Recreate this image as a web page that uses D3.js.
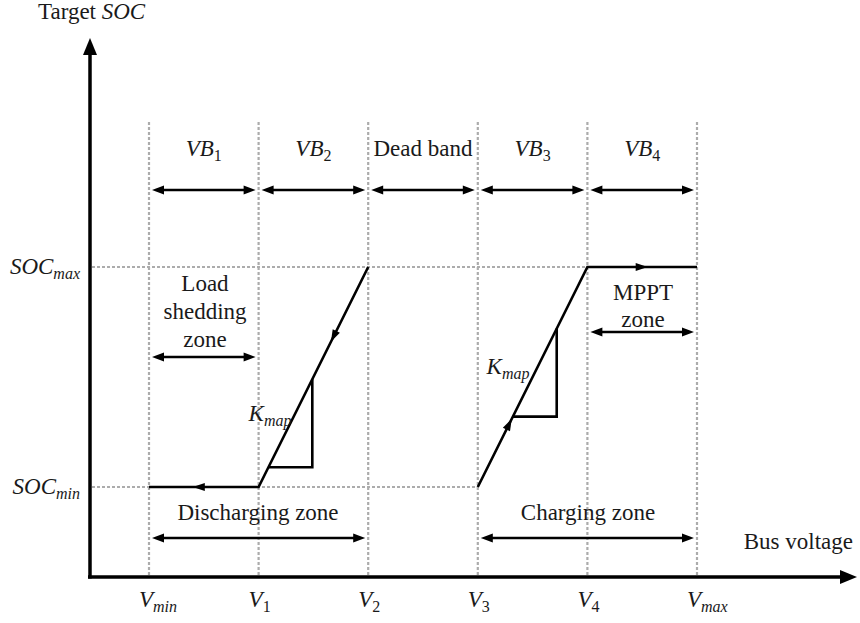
<!DOCTYPE html>
<html>
<head>
<meta charset="utf-8">
<script src="https://cdn.jsdelivr.net/npm/d3@7"></script>
<style>
  html, body { margin: 0; padding: 0; background: #fff; }
  svg { display: block; }
</style>
</head>
<body>
<svg id="chart" width="860" height="623"></svg>
<script>
// ---- data ----
const voltageTicks = ["min", "1", "2", "3", "4", "max"];          // subscripts of V on the bus-voltage axis
const socLevels = [{ key: "min", value: 0 }, { key: "max", value: 1 }];
// operating curves: v = voltage-tick index, soc = target SOC level
const dischargeCurve = [{ v: 0, soc: 0 }, { v: 1, soc: 0 }, { v: 2, soc: 1 }];
const chargeCurve = [{ v: 3, soc: 0 }, { v: 4, soc: 1 }, { v: 5, soc: 1 }];
// voltage bands across the top
const bandNames = [["VB", "1"], ["VB", "2"], ["Dead band", null], ["VB", "3"], ["VB", "4"]];
const bandEdges = [0, 1, 2, 3, 4, 5];
// direction arrows on the curves: position (v) and direction
const dischargeArrows = [{ v: 0.40, dir: -1 }, { v: 1.66, dir: -1 }];
const chargeArrows = [{ v: 3.31, dir: 1 }, { v: 4.55, dir: 1 }];
// slope triangles (v from, v to) for K_map
const slopeTriangles = [{ curve: "discharge", v0: 1.09, v1: 1.49 }, { curve: "charge", v0: 3.32, v1: 3.72 }];

// ---- layout ----
const svg = d3.select("#chart");
const FONT = '"Liberation Serif", "Times New Roman", serif';
const FS = 23, SUB = 16;
const x = d3.scaleLinear().domain([0, 5]).range([149, 697]);
const y = d3.scaleLinear().domain([0, 1]).range([487, 267]);
const axisX0 = 90, axisY0 = 577;
const dashColor = "#acacac";

function curveSoc(which, v) {
  return which === "discharge" ? v - 1 : v - 3;
}

function head(g, tipX, tipY, angle, len, w) {
  const c = Math.cos(angle), s = Math.sin(angle);
  const bx = tipX - c * len, by = tipY - s * len;
  const px = -s * w / 2, py = c * w / 2;
  g.append("path")
    .attr("d", `M${tipX},${tipY}L${bx + px},${by + py}L${bx - px},${by - py}Z`)
    .attr("fill", "#000");
}

function arrow(g, x1, y1, x2, y2, opts) {
  const o = Object.assign({ start: false, end: true, len: 12, w: 10, sw: 3 }, opts);
  const a = Math.atan2(y2 - y1, x2 - x1);
  const c = Math.cos(a), s = Math.sin(a);
  const sx = o.start ? x1 + c * o.len * 0.7 : x1, sy = o.start ? y1 + s * o.len * 0.7 : y1;
  const ex = o.end ? x2 - c * o.len * 0.7 : x2, ey = o.end ? y2 - s * o.len * 0.7 : y2;
  g.append("line").attr("x1", sx).attr("y1", sy).attr("x2", ex).attr("y2", ey)
    .attr("stroke", "#000").attr("stroke-width", o.sw);
  if (o.end) head(g, x2, y2, a, o.len, o.w);
  if (o.start) head(g, x1, y1, a + Math.PI, o.len, o.w);
}

// text made of runs: [text, italic, subscript]
function richText(g, xPos, yPos, runs, anchor) {
  const t = g.append("text").attr("x", xPos).attr("y", yPos)
    .style("font-family", FONT).style("font-size", FS + "px")
    .attr("text-anchor", anchor || "middle").attr("fill", "#1a1a1a");
  let shifted = 0;
  runs.forEach(([txt, it, sub]) => {
    const ts = t.append("tspan").text(txt).style("font-style", it ? "italic" : "normal");
    if (sub) { ts.style("font-size", SUB + "px").attr("dy", 5 - shifted); shifted = 5; }
    else if (shifted) { ts.attr("dy", -shifted); shifted = 0; }
  });
  return t;
}

const gGrid = svg.append("g");
const gMarks = svg.append("g");
const gText = svg.append("g");

// vertical dashed guides at each voltage tick
gGrid.selectAll("line.v").data(voltageTicks).join("line")
  .attr("x1", (d, i) => x(i)).attr("x2", (d, i) => x(i))
  .attr("y1", 122).attr("y2", axisY0)
  .attr("stroke", dashColor).attr("stroke-width", 2.2).attr("stroke-dasharray", "3,2");

// horizontal dashed guides for SOC levels
gGrid.append("line").attr("x1", axisX0 + 2).attr("x2", x(chargeCurve[1].v))
  .attr("y1", y(1)).attr("y2", y(1))
  .attr("stroke", dashColor).attr("stroke-width", 2.2).attr("stroke-dasharray", "3,2");
gGrid.append("line").attr("x1", axisX0 + 2).attr("x2", x(chargeCurve[0].v))
  .attr("y1", y(0)).attr("y2", y(0))
  .attr("stroke", dashColor).attr("stroke-width", 2.2).attr("stroke-dasharray", "3,2");

// axes
arrow(gMarks, axisX0, axisY0 + 1.5, axisX0, 38, { len: 17, w: 14, sw: 3.5 });
arrow(gMarks, axisX0 - 2, axisY0, 857, axisY0, { len: 17, w: 14, sw: 3.5 });

// operating curves
const line = d3.line().x(d => x(d.v)).y(d => y(d.soc));
[dischargeCurve, chargeCurve].forEach(c => {
  gMarks.append("path").datum(c).attr("d", line)
    .attr("fill", "none").attr("stroke", "#000").attr("stroke-width", 2.6)
    .attr("stroke-linejoin", "miter");
});

// direction arrows along the curves
function curveArrow(which, a) {
  const soc = Math.max(0, Math.min(1, curveSoc(which, a.v)));
  const onFlat = (which === "discharge" && a.v < 1) || (which === "charge" && a.v > 4);
  const px = x(a.v), py = y(onFlat ? (which === "discharge" ? 0 : 1) : soc);
  const ang = onFlat ? (a.dir > 0 ? 0 : Math.PI)
    : Math.atan2(y(1) - y(0), x(1) - x(0)) + (a.dir > 0 ? 0 : Math.PI);
  head(gMarks, px, py, ang, 12, 8);
}
dischargeArrows.forEach(a => curveArrow("discharge", a));
chargeArrows.forEach(a => curveArrow("charge", a));

// K_map slope triangles
slopeTriangles.forEach(t => {
  const yb = y(curveSoc(t.curve, t.v0)), yt = y(curveSoc(t.curve, t.v1));
  gMarks.append("path")
    .attr("d", `M${x(t.v0)},${yb}L${x(t.v1)},${yb}L${x(t.v1)},${yt}`)
    .attr("fill", "none").attr("stroke", "#000").attr("stroke-width", 2.6);
});
richText(gText, 270, 421, [["K", true], ["map", true, true]]);
richText(gText, 508, 374, [["K", true], ["map", true, true]]);

// voltage band labels and arrows
bandNames.forEach((b, i) => {
  const cx = (x(bandEdges[i]) + x(bandEdges[i + 1])) / 2;
  if (b[1] === null) richText(gText, cx, 156, [[b[0], false]]);
  else richText(gText, cx, 156, [[b[0], true], [b[1], false, true]]);
  arrow(gMarks, x(bandEdges[i]) + 3, 190, x(bandEdges[i + 1]) - 3, 190, { start: true, len: 12, w: 9, sw: 2.6 });
});

// zone labels
richText(gText, 205, 291, [["Load", false]]);
richText(gText, 205, 319, [["shedding", false]]);
richText(gText, 205, 347, [["zone", false]]);
arrow(gMarks, x(0) + 3, 357, x(1) - 3, 357, { start: true, len: 12, w: 9, sw: 2.6 });

richText(gText, 643, 300, [["MPPT", false]]);
richText(gText, 643, 327, [["zone", false]]);
arrow(gMarks, x(4) + 3, 332, x(5) - 3, 332, { start: true, len: 12, w: 9, sw: 2.6 });

richText(gText, 258, 520, [["Discharging zone", false]]);
arrow(gMarks, x(0) + 3, 538, x(2) - 3, 538, { start: true, len: 12, w: 9, sw: 2.6 });
richText(gText, 588, 520, [["Charging zone", false]]);
arrow(gMarks, x(3) + 3, 538, x(5) - 3, 538, { start: true, len: 12, w: 9, sw: 2.6 });

// axis titles
richText(gText, 38, 19, [["Target ", false], ["SOC", true]], "start");
richText(gText, 853, 549, [["Bus voltage", false]], "end");

// SOC level labels
socLevels.forEach(s => {
  richText(gText, 80, y(s.value) + 7, [["SOC", true], [s.key, true, true]], "end");
});

// voltage tick labels
voltageTicks.forEach((t, i) => {
  const isNum = /^\d$/.test(t);
  richText(gText, x(i) - 10, 607, [["V", true], [t, !isNum, true]], "start");
});
</script>
</body>
</html>
